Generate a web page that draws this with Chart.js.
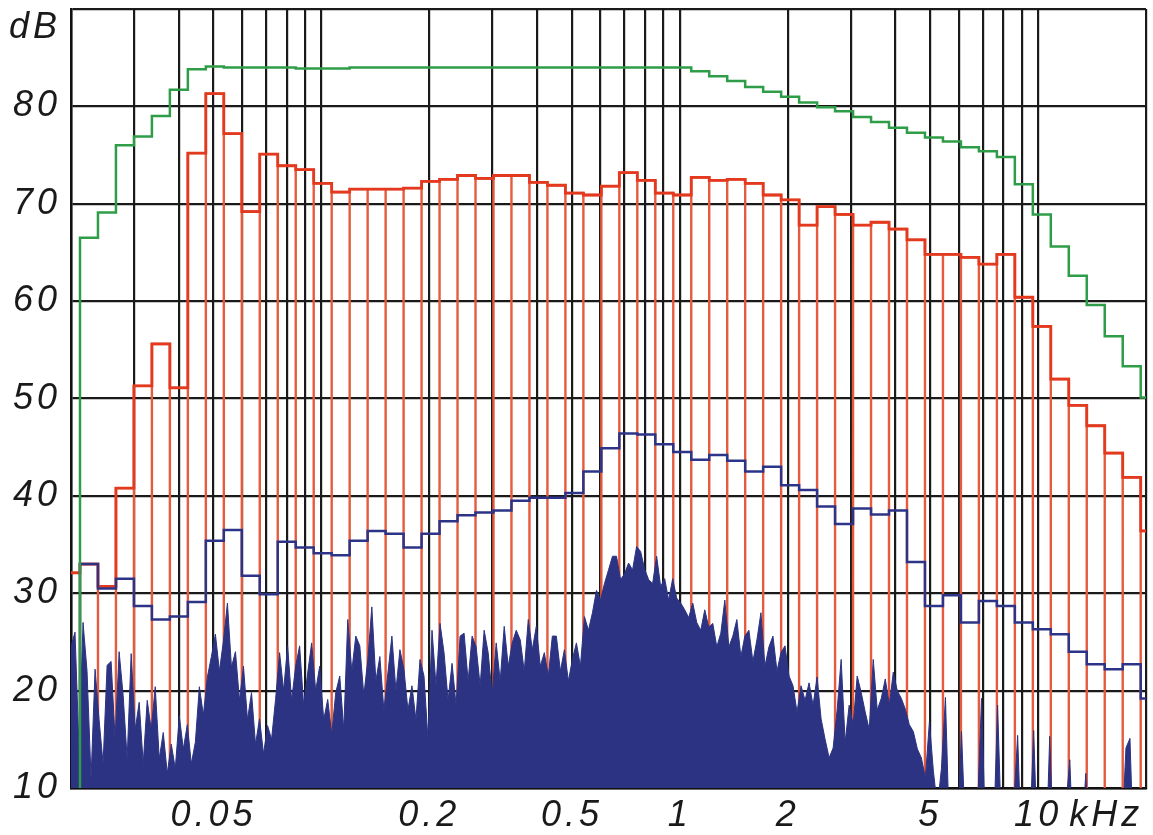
<!DOCTYPE html>
<html>
<head>
<meta charset="utf-8">
<script src="https://cdn.jsdelivr.net/npm/chart.js@4.4.1/dist/chart.umd.min.js"></script>
<style>
  html, body { margin: 0; padding: 0; background: #fff; }
  #wrap { width: 1153px; height: 835px; }
</style>
</head>
<body>
<div id="wrap"><canvas id="spectrumChart" width="1153" height="835"></canvas></div>
<script>
// 1/6-octave bands, centres in kHz from 20 Hz upwards
const bandCentres = Array.from({ length: 61 }, (_, k) => 0.02 * Math.pow(2, k / 6));
const halfBand = Math.pow(2, 1 / 12);

// band levels, dB (null = not drawn)
const maxLevels = [null, 66.5, 69.1, 76.0, 76.9, 79.0, 81.7, 83.8, 84.1, 84.0,
  84.0, 84.0, 84.0, 83.9, 83.9, 83.9, 84.0, 84.0, 84.0, 84.0,
  84.0, 84.0, 84.0, 84.0, 84.0, 84.0, 84.0, 84.0, 84.0, 84.0,
  84.0, 84.0, 84.0, 84.0, 84.0, 83.6, 83.1, 82.6, 82.0, 81.5,
  81.0, 80.4, 79.9, 79.5, 78.9, 78.4, 77.8, 77.3, 76.8, 76.4,
  75.8, 75.4, 74.8, 72.0, 68.9, 65.6, 62.6, 59.6, 56.4, 53.3, 50.1];

const leqLevels = [32.1, 33.0, 30.7, 40.8, 51.3, 55.6, 51.1, 75.2, 81.3, 77.2,
  69.2, 75.1, 73.9, 73.5, 72.1, 71.2, 71.5, 71.5, 71.5, 71.6,
  72.3, 72.5, 72.9, 72.6, 72.9, 72.9, 72.2, 71.9, 71.1, 70.9,
  71.8, 73.2, 72.4, 71.1, 70.9, 72.7, 72.4, 72.5, 72.1, 70.9,
  70.4, 67.8, 69.7, 68.9, 67.8, 68.1, 67.4, 66.3, 64.8, 64.8,
  64.5, 63.8, 64.8, 60.4, 57.4, 52.0, 49.3, 47.2, 44.4, 41.9, 36.4];

const minLevels = [null, 33.0, 30.5, 31.5, 28.7, 27.3, 27.6, 29.1, 35.4, 36.5,
  31.8, 29.9, 35.3, 34.7, 34.1, 33.9, 35.4, 36.4, 36.1, 34.7,
  36.1, 37.4, 38.0, 38.3, 38.5, 39.5, 39.8, 39.8, 40.3, 42.5,
  44.9, 46.4, 46.3, 45.3, 44.5, 43.7, 44.2, 43.6, 42.5, 43.0,
  41.1, 40.6, 38.9, 37.1, 38.7, 38.1, 38.5, 33.2, 28.7, 29.8,
  27.0, 29.2, 28.7, 27.0, 26.3, 25.8, 24.0, 22.7, 22.2, 22.7, 19.2];

// narrow-band spectrum, dB, sampled evenly on the log axis 20 Hz .. 20 kHz
const spectrumLevels = [
  24.5, 26.0, 14.0, 27.0, 22.0, 11.0, 22.2, 17.0, 12.5, 22.6,
  23.0, 15.0, 24.0, 19.5, 13.0, 23.8, 16.0, 18.8, 12.5, 19.0,
  16.0, 20.4, 13.0, 15.7, 11.5, 14.5, 12.0, 17.4, 14.0, 16.5,
  12.5, 14.7, 20.4, 17.5, 21.4, 23.5, 25.8, 22.0, 25.1, 29.0,
  22.4, 24.0, 19.0, 22.5, 17.0, 19.8, 14.5, 17.1, 13.5, 16.4,
  15.0, 19.1, 23.9, 20.0, 24.6, 19.0, 22.5, 24.6, 18.5, 21.8,
  24.9, 20.0, 22.5, 17.0, 19.1, 15.5, 19.8, 21.5, 16.0, 27.3,
  22.0, 25.6, 24.6, 19.5, 23.2, 28.6, 21.0, 23.5, 18.0, 21.8,
  25.6, 20.0, 24.2, 22.2, 18.0, 20.5, 17.0, 23.2, 21.5, 15.0,
  26.2, 20.5, 26.9, 23.9, 19.0, 22.8, 18.5, 25.6, 25.9, 21.0,
  25.6, 24.5, 20.5, 26.2, 23.9, 19.5, 24.9, 21.0, 26.6, 22.5,
  24.9, 26.2, 25.2, 22.0, 27.3, 24.2, 26.6, 22.5, 23.9, 21.5,
  25.6, 25.6, 22.0, 24.2, 21.0, 23.2, 24.9, 22.5, 27.6, 26.2,
  28.0, 30.3, 29.3, 31.0, 32.4, 33.8, 33.8, 31.4, 32.0, 33.1,
  32.4, 34.8, 34.3, 32.5, 31.4, 31.0, 33.8, 30.7, 31.5, 29.3,
  31.5, 29.5, 29.0, 28.3, 27.5, 29.0, 27.0, 26.2, 28.3, 26.5,
  26.9, 24.5, 25.9, 29.3, 24.5, 25.6, 27.3, 23.5, 25.6, 26.2,
  23.0, 25.2, 28.0, 22.5, 24.5, 25.6, 22.0, 23.9, 24.6, 21.5,
  20.5, 17.8, 20.5, 19.0, 20.8, 18.5, 21.4, 17.1, 15.0, 13.1,
  14.1, 18.0, 23.2, 14.7, 18.5, 16.5, 21.5, 19.8, 17.8, 16.0,
  23.2, 18.0, 19.2, 21.2, 18.5, 21.9, 20.0, 19.2, 18.1, 16.5,
  15.8, 14.0, 13.1, 11.0, 16.8, 11.7, 8.0, 12.0, 19.3, 5.0,
  2.0, 5.0, 15.8, 5.0, 2.0, 2.0, 8.0, 19.2, 5.0, 2.0,
  5.0, 18.5, 5.0, 2.0, 2.0, 8.0, 15.4, 3.0, 2.0, 5.0,
  15.9, 3.0, 2.0, 2.0, 15.3, 3.0, 2.0, 2.0, 8.0, 12.9,
  2.0, 2.0, 5.0, 11.5, 2.0, 2.0, 2.0, 2.0, 2.0, 2.0,
  2.0, 2.0, 5.0, 14.1, 15.1, 2.0, 2.0, 2.0, 2.0];

// axes
const xMin = 0.02, xMax = 20, yMin = 10, yMax = 90;
const xTickValues = [0.02, 0.03, 0.04, 0.05, 0.06, 0.07, 0.08, 0.09, 0.1, 0.2, 0.3, 0.4, 0.5, 0.6, 0.7, 0.8, 0.9,
  1, 2, 3, 4, 5, 6, 7, 8, 9, 10, 15.5, 20];
const xTickLabels = { 0.05: '0.05', 0.2: '0.2', 0.5: '0.5', 1: '1', 2: '2', 5: '5', 10: '10', 15.5: 'kHz' };
const unitTickX = 15.5;
const yTickValues = [10, 20, 30, 40, 50, 60, 70, 80, 88, 90];
const yTickLabels = { 10: '10', 20: '20', 30: '30', 40: '40', 50: '50', 60: '60', 70: '70', 80: '80', 88: 'dB' };
const unitTickY = 88;

// step outline across the bands; fromBase starts with a rise from the floor
function stepPoints(levels, fromBase) {
  const pts = [];
  levels.forEach((v, k) => {
    if (v == null) return;
    const lo = bandCentres[k] / halfBand, hi = bandCentres[k] * halfBand;
    if (fromBase && pts.length === 0) pts.push({ x: lo, y: yMin });
    pts.push({ x: lo, y: v }, { x: hi, y: v });
  });
  return pts;
}
// open bars: floor - up - across - down for every band
function barPoints(levels) {
  const pts = [];
  levels.forEach((v, k) => {
    const lo = bandCentres[k] / halfBand, hi = bandCentres[k] * halfBand;
    pts.push({ x: lo, y: yMin }, { x: lo, y: v }, { x: hi, y: v }, { x: hi, y: yMin });
  });
  return pts;
}
const spectrumPoints = spectrumLevels.map((v, i) => ({
  x: xMin * Math.pow(xMax / xMin, i / (spectrumLevels.length - 1)), y: v
}));

const gridColor = '#1a1a1a';
const tickFont = { family: "'Liberation Sans', Arial, sans-serif", size: 36, style: 'italic' };

const spacedText = {
  id: 'spacedText',
  beforeLayout(chart) { chart.ctx.letterSpacing = '4px'; },
  beforeDraw(chart) { chart.ctx.letterSpacing = '4px'; }
};

// keep the plot frame fixed: no extra room for half-labels at the ends
function noEdgePadding(s) {
  s.paddingTop = 0; s.paddingBottom = 0; s.paddingLeft = 0; s.paddingRight = 0;
}

new Chart(document.getElementById('spectrumChart'), {
  type: 'line',
  data: {
    datasets: [
      { label: 'max', data: stepPoints(maxLevels, true), borderColor: '#2f9d48', borderWidth: 2.5, order: 0, clip: 0 },
      { label: 'min', data: stepPoints(minLevels, true), borderColor: '#2d3487', borderWidth: 2.5, order: 1, clip: 0 },
      { label: 'spectrum', data: spectrumPoints, borderColor: '#2b3382', backgroundColor: '#2b3382', borderWidth: 1, fill: 'start', order: 2, clip: 0 },
      { label: 'leq', data: stepPoints(leqLevels, false), borderColor: '#e33a1f', borderWidth: 2.8, order: 3, clip: 0 },
      { label: 'bands', data: barPoints(leqLevels), borderColor: '#e65b3d', borderWidth: 2.4, order: 4, clip: 0 }
    ]
  },
  options: {
    responsive: false,
    animation: false,
    devicePixelRatio: 1,
    parsing: false,
    layout: { padding: { top: 9, right: 7, left: 0, bottom: 0 } },
    elements: { point: { radius: 0 }, line: { tension: 0 } },
    plugins: { legend: { display: false }, tooltip: { enabled: false } },
    scales: {
      x: {
        type: 'logarithmic', min: xMin, max: xMax,
        afterBuildTicks: s => { s.ticks = xTickValues.map(v => ({ value: v })); },
        afterFit: s => { s.height = 47; noEdgePadding(s); },
        grid: { color: c => (c.tick && c.tick.value === unitTickX ? 'transparent' : gridColor), lineWidth: 2.2, drawTicks: false },
        border: { color: '#111', width: 2.5 },
        ticks: { autoSkip: false, maxRotation: 0, padding: 6, color: '#1a1a1a', font: tickFont, callback: v => xTickLabels[v] || '' }
      },
      y: {
        min: yMin, max: yMax,
        afterBuildTicks: s => { s.ticks = yTickValues.map(v => ({ value: v })); },
        afterFit: s => { s.width = 71; noEdgePadding(s); },
        grid: { color: c => (c.tick && c.tick.value === unitTickY ? 'transparent' : gridColor), lineWidth: 2.2, drawTicks: false },
        border: { color: '#111', width: 2.5 },
        ticks: { autoSkip: false, padding: 10, color: '#1a1a1a', font: tickFont, callback: v => yTickLabels[v] || '' }
      }
    }
  },
  plugins: [spacedText]
});
</script>
</body>
</html>
